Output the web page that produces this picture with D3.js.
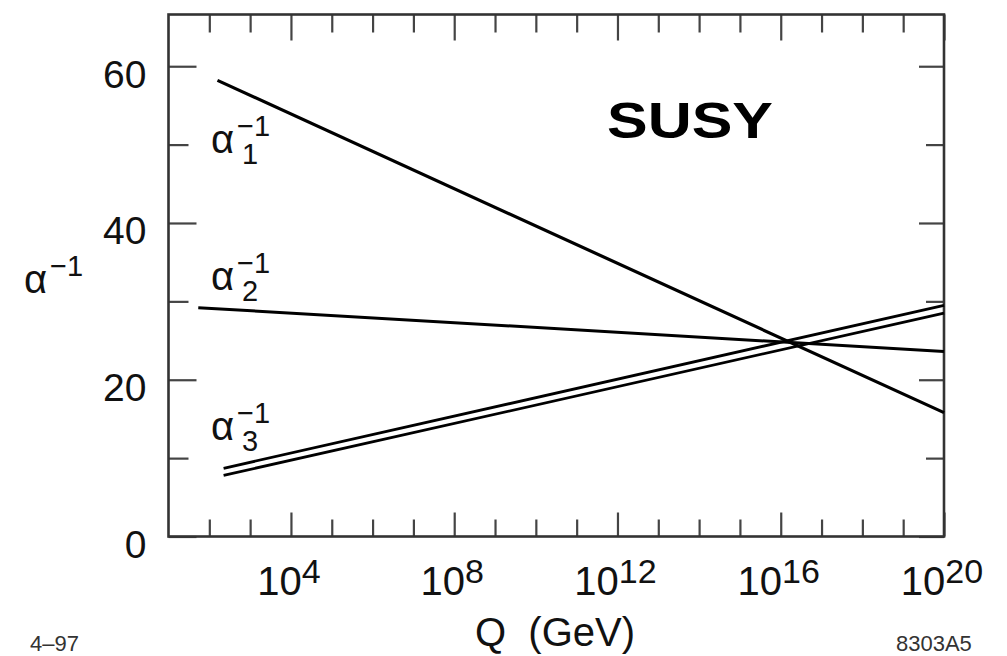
<!DOCTYPE html>
<html>
<head>
<meta charset="utf-8">
<script src="https://cdn.jsdelivr.net/npm/d3@7"></script>
<style>
  body { margin: 0; background: #fff; }
  svg { display: block; font-family: "Liberation Sans", Arial, Helvetica, sans-serif; }
</style>
</head>
<body>
<svg width="1007" height="656"></svg>
<script>
// log10(Q) of the line ends and alpha^-1 values
const alpha1Q = [2.2, 20];
const alpha1V = [58.2, 15.8];
const alpha2Q = [1.73, 20];
const alpha2V = [29.2, 23.6];
const alpha3Q = [2.35, 20];
const alpha3UpperV = [8.7, 29.5];
const alpha3LowerV = [7.8, 28.5];

// ticks
const xMajor = [4, 8, 12, 16, 20];
const xMinor = [2, 3, 5, 6, 7, 9, 10, 11, 13, 14, 15, 17, 18, 19];
const yMajor = [0, 20, 40, 60];
const yMinor = [10, 30, 50];

// curve labels: subscript, and the alpha^-1 value of the label baseline
const curveLabels = [
    { sub: "1", v: 48.9 },
    { sub: "2", v: 31.4 },
    { sub: "3", v: 12.3 }
];

function drawChart() {
    let svg = d3.select("svg");
    svg.selectAll("*").remove();

    const area = { left: 168.5, right: 944, top: 14.5, bottom: 536.5 };

    // шкалы: по X - показатель степени Q
    let scX = d3.scaleLinear().domain([1, 20]).range([area.left, area.right]);
    let scY = d3.scaleLinear().domain([0, 66.6]).range([area.bottom, area.top]);

    drawAxes(svg, scX, scY, area);
    drawLines(svg, scX, scY);
    drawTexts(svg, scX, scY, area);
}

function drawAxes(svg, scX, scY, area) {
    const tickColor = "#444";
    const addAxis = (axis, tx, ty) => {
        let g = svg.append("g")
            .attr("transform", `translate(${tx}, ${ty})`)
            .call(axis);
        g.select(".domain").remove();
        g.selectAll(".tick line").attr("stroke", tickColor).attr("stroke-width", 2.2);
        return g;
    };

    // ticks point inwards on all four sides
    addAxis(d3.axisBottom(scX).tickValues(xMajor).tickSize(-24).tickFormat(""), 0, area.bottom);
    addAxis(d3.axisBottom(scX).tickValues(xMinor).tickSize(-17).tickFormat(""), 0, area.bottom);
    addAxis(d3.axisTop(scX).tickValues(xMajor).tickSize(-26).tickFormat(""), 0, area.top);
    addAxis(d3.axisTop(scX).tickValues(xMinor).tickSize(-18).tickFormat(""), 0, area.top);

    let left = addAxis(d3.axisLeft(scY).tickValues(yMajor).tickSize(-28).tickPadding(22), area.left, 0);
    left.selectAll(".tick text")
        .attr("dy", 21)
        .style("font-size", "39px")
        .attr("fill", "#111");
    addAxis(d3.axisLeft(scY).tickValues(yMinor).tickSize(-20).tickFormat(""), area.left, 0);
    addAxis(d3.axisRight(scY).tickValues(yMajor).tickSize(-25).tickFormat(""), area.right, 0);
    addAxis(d3.axisRight(scY).tickValues(yMinor).tickSize(-18).tickFormat(""), area.right, 0);

    // labels 10^n under the bottom axis
    svg.append("g")
        .selectAll("text")
        .data(xMajor)
        .enter()
        .append("text")
        .attr("x", d => scX(d) - 2)
        .attr("y", area.bottom + 58)
        .attr("text-anchor", "middle")
        .style("font-size", "40px")
        .attr("fill", "#111")
        .each(function (d) {
            let t = d3.select(this);
            t.append("tspan").text("10");
            t.append("tspan").attr("dy", -12).style("font-size", "34px").text(d);
        });

    // рамка
    svg.append("rect")
        .attr("x", area.left)
        .attr("y", area.top)
        .attr("width", area.right - area.left)
        .attr("height", area.bottom - area.top)
        .attr("fill", "none")
        .attr("stroke", "#333")
        .attr("stroke-width", 2.6);
}

function drawLines(svg, scX, scY) {
    const line = d3.line().x(d => scX(d[0])).y(d => scY(d[1]));
    const series = [
        { q: alpha1Q, v: alpha1V, w: 3.2 },
        { q: alpha2Q, v: alpha2V, w: 3 },
        { q: alpha3Q, v: alpha3UpperV, w: 2.8 },
        { q: alpha3Q, v: alpha3LowerV, w: 2.8 }
    ];
    svg.append("g")
        .selectAll("path")
        .data(series)
        .enter()
        .append("path")
        .attr("d", s => line(d3.zip(s.q, s.v)))
        .attr("fill", "none")
        .attr("stroke", "#000")
        .attr("stroke-width", s => s.w);
}

// alpha with a -1 superscript and optional subscript
function alphaLabel(svg, x, y, sub) {
    svg.append("text").attr("x", x).attr("y", y)
        .style("font-size", "40px").attr("fill", "#111").text("α");
    svg.append("text").attr("x", x + 26).attr("y", y - 17)
        .style("font-size", "29px").attr("fill", "#111").text("−1");
    if (sub) {
        svg.append("text").attr("x", x + 31).attr("y", y + 11)
            .style("font-size", "29px").attr("fill", "#111").text(sub);
    }
}

function drawTexts(svg, scX, scY, area) {
    curveLabels.forEach(l => alphaLabel(svg, 211, scY(l.v), l.sub));

    // подпись оси Y
    alphaLabel(svg, 24, 293, null);

    svg.append("text")
        .attr("x", 475)
        .attr("y", 646)
        .style("font-size", "40px")
        .style("white-space", "pre")
        .attr("fill", "#111")
        .text("Q  (GeV)");

    svg.append("text")
        .attr("x", 607)
        .attr("y", 138)
        .attr("textLength", 166)
        .attr("lengthAdjust", "spacingAndGlyphs")
        .style("font-size", "50px")
        .style("font-weight", "bold")
        .attr("fill", "#000")
        .text("SUSY");

    svg.append("text").attr("x", 30).attr("y", 651)
        .style("font-size", "22px").attr("fill", "#333").text("4–97");
    svg.append("text").attr("x", 896).attr("y", 651)
        .style("font-size", "22px").attr("fill", "#333").text("8303A5");
}

drawChart();
</script>
</body>
</html>
